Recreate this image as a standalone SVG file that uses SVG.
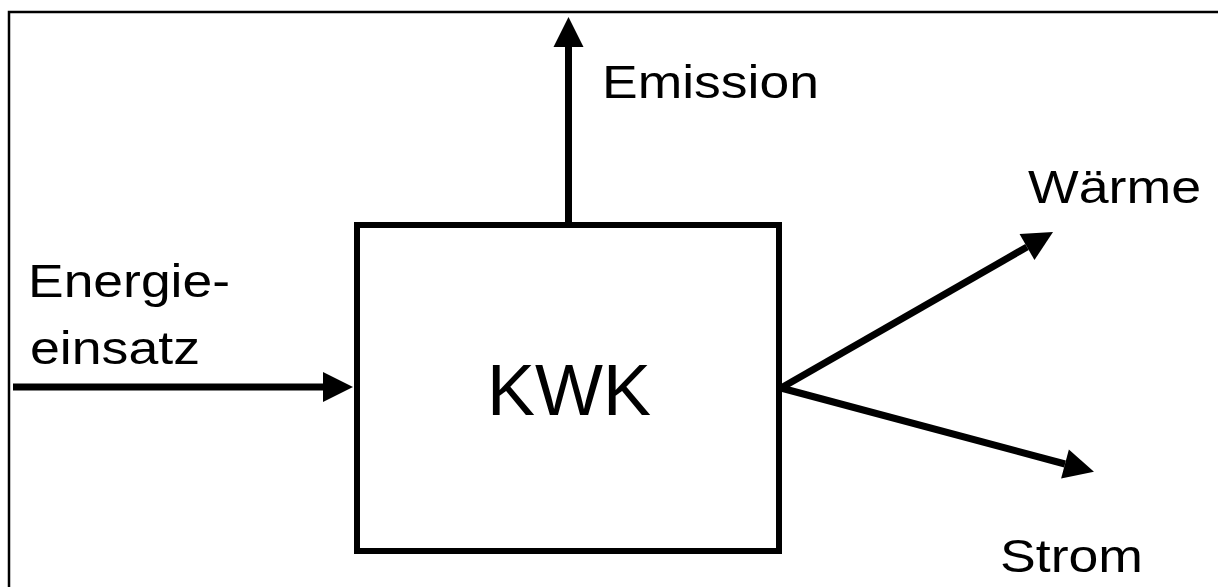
<svg xmlns="http://www.w3.org/2000/svg" width="1218" height="587" viewBox="0 0 1218 587">
  <defs>
    <style>
      .lbl { font-family: "Liberation Sans", Arial, sans-serif; font-size: 47px; fill: #000; }
      .big { font-family: "Liberation Sans", Arial, sans-serif; font-size: 72px; fill: #000; }
      .conn { stroke: #000; stroke-width: 7; fill: none; marker-end: url(#head); }
    </style>
    <marker id="head" markerUnits="userSpaceOnUse" markerWidth="30" markerHeight="30" refX="0" refY="15" orient="auto" overflow="visible">
      <path d="M0,0 L30,15 L0,30 Z" fill="#000"/>
    </marker>
  </defs>
  <rect x="0" y="0" width="1218" height="587" fill="#fff"/>
  <g id="frame">
    <rect x="9" y="12" width="2000" height="2000" fill="none" stroke="#000" stroke-width="2.5"/>
  </g>
  <g id="connectors">
    <line class="conn" x1="13" y1="387" x2="323" y2="387"/>
    <line class="conn" x1="568.5" y1="222" x2="568.5" y2="47"/>
    <line class="conn" x1="781" y1="388" x2="1027" y2="247"/>
    <line class="conn" x1="781" y1="388" x2="1065" y2="464"/>
  </g>
  <g id="kwk">
    <rect x="357" y="225" width="422" height="326" fill="none" stroke="#000" stroke-width="6"/>
    <text class="big" x="569" y="415" text-anchor="middle">KWK</text>
  </g>
  <g id="energieeinsatz">
    <text class="lbl" x="28" y="297" textLength="202" lengthAdjust="spacingAndGlyphs">Energie-</text>
    <text class="lbl" x="30" y="364" textLength="170" lengthAdjust="spacingAndGlyphs">einsatz</text>
  </g>
  <g id="emission">
    <text class="lbl" x="602" y="98" textLength="217" lengthAdjust="spacingAndGlyphs">Emission</text>
  </g>
  <g id="waerme">
    <text class="lbl" x="1028" y="203" textLength="173" lengthAdjust="spacingAndGlyphs">Wärme</text>
  </g>
  <g id="strom">
    <text class="lbl" x="1000" y="572" textLength="143" lengthAdjust="spacingAndGlyphs">Strom</text>
  </g>
</svg>
